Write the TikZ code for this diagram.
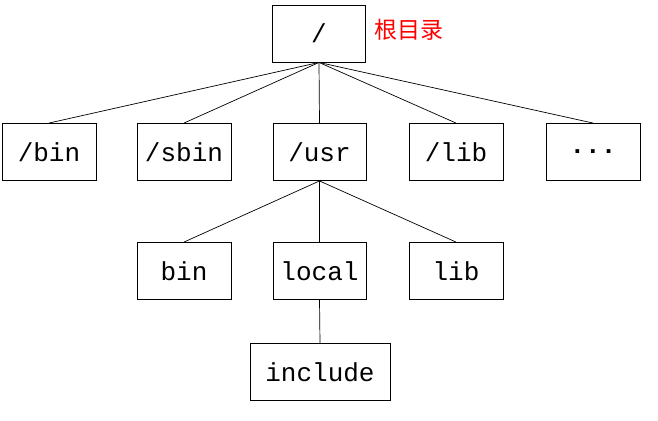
\documentclass[tikz,border=0pt]{standalone}
\usepackage{fontspec}
\setmainfont{Liberation Mono}
\newfontfamily\cjk{Noto Sans CJK SC}
\begin{document}
\begin{tikzpicture}[x=1pt,y=-1pt,
  box/.style={draw,line width=0.9pt,minimum height=57pt,inner sep=0pt,font=\fontsize{26}{26}\selectfont},
  link/.style={line width=0.7pt}]
\useasboundingbox (0,0) rectangle (658,420);
\node[box,minimum width=93pt] (root) at (319,33.5) {/};
\node[anchor=west,text=red,font=\cjk\fontsize{23}{23}\selectfont] (lbl) at (371,30) {根目录};
\node[box,minimum width=94pt] (bin) at (49,152) {/bin};
\node[box,minimum width=94pt] (sbin) at (184,152) {/sbin};
\node[box,minimum width=93pt] (usr) at (319.5,152) {/usr};
\node[box,minimum width=94pt] (lib) at (456,152) {/lib};
\node[box,minimum width=94pt] (dots) at (593,152) {\textbf{...}};
\node[box,minimum width=94pt] (ubin) at (184,271) {bin};
\node[box,minimum width=93pt] (local) at (319.5,271) {local};
\node[box,minimum width=94pt] (ulib) at (456,271) {lib};
\node[box,minimum width=140pt] (inc) at (320,372) {include};
\foreach \n in {bin,sbin,usr,lib,dots} \draw[link] (root.south) -- (\n.north);
\foreach \n in {ubin,local,ulib} \draw[link] (usr.south) -- (\n.north);
\draw[link] (local.south) -- (inc.north);
\end{tikzpicture}
\end{document}
